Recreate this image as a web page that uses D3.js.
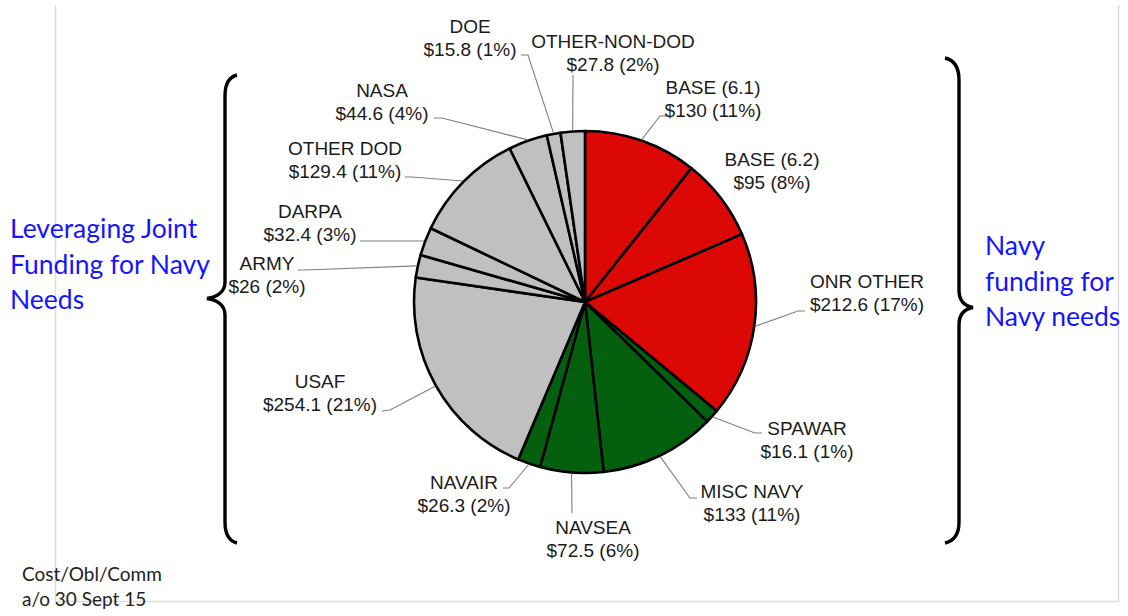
<!DOCTYPE html>
<html>
<head>
<meta charset="utf-8">
<script src="https://cdn.jsdelivr.net/npm/d3@7"></script>
<style>
  html, body { margin: 0; padding: 0; background: #fff; }
  svg { display: block; }
</style>
</head>
<body>
<svg id="chart" width="1128" height="616"></svg>
<script>
// ---------------- DATA ----------------
const categories = ["BASE (6.1)", "BASE (6.2)", "ONR OTHER", "SPAWAR", "MISC NAVY", "NAVSEA", "NAVAIR",
                    "USAF", "ARMY", "DARPA", "OTHER DOD", "NASA", "DOE", "OTHER-NON-DOD"];
const values = [130, 95, 212.6, 16.1, 133, 72.5, 26.3, 254.1, 26, 32.4, 129.4, 44.6, 15.8, 27.8];
const groups = ["ONR", "ONR", "ONR", "Navy", "Navy", "Navy", "Navy",
                "Joint", "Joint", "Joint", "Joint", "Joint", "Joint", "Joint"];
const groupNames = ["ONR", "Navy", "Joint"];
const groupColors = ["#dc0806", "#04600f", "#c0c0c0"];
const leftNote = ["Leveraging Joint", "Funding for Navy", "Needs"];
const rightNote = ["Navy", "funding for", "Navy needs"];
const footNote = ["Cost/Obl/Comm", "a/o 30 Sept 15"];

// ---------------- LAYOUT (label placement, not data) ----------------
// pos: [centerX, firstBaselineY]; leader: points on the label side (end, elbow), null = none
const labelLayout = [
  {pos: [713, 94],  leader: [[667, 116], [660, 116]]},
  {pos: [772, 166], leader: null},
  {pos: [867, 288], leader: [[805, 311], [798, 311]]},
  {pos: [807, 435], leader: [[762, 433], [755, 433]]},
  {pos: [752, 498], leader: [[697, 498], [690, 498]]},
  {pos: [593, 534], leader: [[572, 513]]},
  {pos: [464, 489], leader: [[503, 488], [509, 488]]},
  {pos: [320, 388], leader: [[382, 411], [390, 410]]},
  {pos: [267, 270], leader: [[298, 270], [305, 270]]},
  {pos: [310, 218], leader: [[360, 241], [367, 241]]},
  {pos: [345, 155], leader: [[405, 177], [412, 177]]},
  {pos: [382, 97],  leader: [[434, 118], [442, 118]]},
  {pos: [470, 33],  leader: [[521, 55], [528, 55]]},
  {pos: [613, 48],  leader: [[573, 75]]}
];

const cx = 585, cy = 302, R = 171;
const svg = d3.select("#chart");

// frame
svg.append("path")
  .attr("d", `M55.5,5 V601.5 H1118.5 V5`)
  .attr("fill", "none").attr("stroke", "#dcdcdc").attr("stroke-width", 1.5);

const color = d3.scaleOrdinal().domain(groupNames).range(groupColors);
const total = d3.sum(values);
const data = categories.map((c, i) => ({name: c, value: values[i], group: groups[i], idx: i}));

const pie = d3.pie().sort(null).value(d => d.value).startAngle(0).endAngle(2 * Math.PI);
const arcs = pie(data);
const arc = d3.arc().innerRadius(0).outerRadius(R);

const g = svg.append("g").attr("transform", `translate(${cx},${cy})`);
g.selectAll("path.slice").data(arcs).join("path")
  .attr("class", "slice")
  .attr("d", arc)
  .attr("fill", d => color(d.data.group))
  .attr("stroke", "#000")
  .attr("stroke-width", 2.6)
  .attr("stroke-linejoin", "round");

// leader lines
const line = d3.line();
arcs.forEach((d, i) => {
  const L = labelLayout[i];
  if (!L.leader) return;
  const mid = (d.startAngle + d.endAngle) / 2;
  const ex = cx + Math.sin(mid) * (R + 1);
  const ey = cy - Math.cos(mid) * (R + 1);
  svg.append("path")
    .attr("d", line([...L.leader, [ex, ey]]))
    .attr("fill", "none").attr("stroke", "#7f7f7f").attr("stroke-width", 1.1);
});

// slice labels
const pct = d3.format(".0%");
arcs.forEach((d, i) => {
  const L = labelLayout[i];
  const t = svg.append("text")
    .attr("x", L.pos[0]).attr("y", L.pos[1])
    .attr("text-anchor", "middle")
    .style("font-family", "'Liberation Sans', Arial, sans-serif")
    .style("font-size", "19px")
    .attr("fill", "#1b1b1b");
  t.append("tspan").attr("x", L.pos[0]).text(d.data.name);
  t.append("tspan").attr("x", L.pos[0]).attr("dy", 22.5)
    .text(`$${d.data.value} (${pct(d.data.value / total)})`);
});

// braces
svg.append("path")
  .attr("d", "M237,75 C229,77 225,84 225,96 L225,282 C225,292 217,297 207,298.5 C217,300 225,305 225,315 L225,522 C225,534 229,541 237,543")
  .attr("fill", "none").attr("stroke", "#000").attr("stroke-width", 3.4);
svg.append("path")
  .attr("d", "M945,58 C954,60 959,67 959,80 L959,290 C959,300 964,306 973,307.5 C964,309 959,315 959,325 L959,522 C959,534 954,541 945,543")
  .attr("fill", "none").attr("stroke", "#000").attr("stroke-width", 3.4);

// blue notes
const noteFont = "Lato, 'Open Sans', sans-serif";
const lt = svg.append("text").attr("fill", "#1414ff")
  .style("font-family", noteFont).style("font-size", "26.5px");
leftNote.forEach((s, i) => lt.append("tspan").attr("x", 10).attr("y", 238 + i * 35.5).text(s));
const rt = svg.append("text").attr("fill", "#1414ff")
  .style("font-family", noteFont).style("font-size", "26.5px");
rightNote.forEach((s, i) => rt.append("tspan").attr("x", 985).attr("y", 255 + i * 35.5).text(s));

// foot note
const ft = svg.append("text").attr("fill", "#222")
  .style("font-family", noteFont).style("font-size", "19px");
footNote.forEach((s, i) => ft.append("tspan").attr("x", 22).attr("y", 581 + i * 25).text(s));
</script>
</body>
</html>
